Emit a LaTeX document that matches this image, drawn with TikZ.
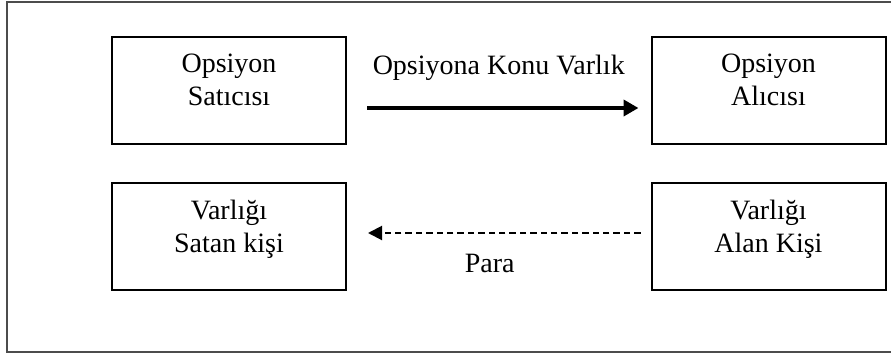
\documentclass[tikz,border=0pt]{standalone}
\usepackage{fontspec}
\setmainfont{Liberation Serif}
\usetikzlibrary{arrows.meta}
\tikzset{
  party/.style={draw, line width=1pt, minimum width=117pt, minimum height=53.5pt, inner sep=0pt},
  party text/.style={anchor=north, align=center, yshift=-9pt, inner sep=0pt,
    font=\fontsize{14}{16.5}\selectfont},
  flow/.style={line width=2pt, -{Triangle[length=7.5pt,width=8pt]}},
  payment/.style={line width=1pt, dash pattern=on 3.2pt off 2pt,
    -{Triangle[length=7pt,width=7pt]}},
  flow label/.style={inner sep=0pt, font=\fontsize{14}{16.5}\selectfont}
}

\begin{document}
\begin{tikzpicture}[x=0.5pt, y=-0.5pt, line join=miter]

  \useasboundingbox (0,0) rectangle (891,354);

  % outer frame (right side runs off the page)
  \draw[line width=1pt, black!70] (895,2) -- (7,2) -- (7,352) -- (895,352);

  % option parties
  \node[party, label={[party text]north:{Opsiyon\\Satıcısı}}] (sat) at (229,90) {};
  \node[party, label={[party text]north:{Opsiyon\\Alıcısı}}] (alici) at (768.5,90) {};

  % asset parties
  \node[party, label={[party text]north:{Varlığı\\Satan kişi}}] (satan) at (229,236.5) {};
  \node[party, label={[party text]north:{Varlığı\\Alan Kişi}}] (alan) at (768.5,236.5) {};

  % underlying asset
  \draw[flow, shorten <=10pt, shorten >=6pt]
    ([yshift=-9pt]sat.east) -- ([yshift=-9pt]alici.west)
    node[flow label, midway, yshift=20pt] {Opsiyona Konu Varlık};

  % money
  \draw[payment, shorten <=5pt, shorten >=10.5pt]
    ([yshift=1.75pt]alan.west) -- ([yshift=1.75pt]satan.east)
    node[flow label, midway, yshift=-15pt, xshift=-4.5pt] {Para};

\end{tikzpicture}
\end{document}
